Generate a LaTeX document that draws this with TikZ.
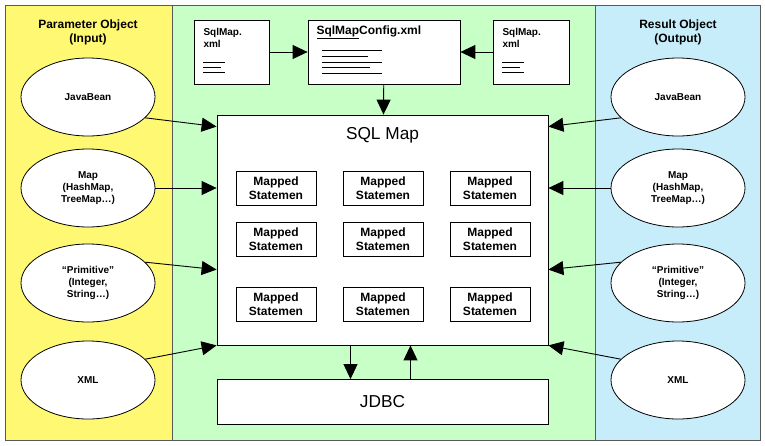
\documentclass[tikz,border=0pt]{standalone}
\usepackage{fontspec}
\setmainfont{Liberation Sans}
\usetikzlibrary{arrows.meta,shapes.geometric}
\tikzset{
  panel/.style={draw=gray!70!black, line width=1pt},
  obj/.style={draw, ellipse, fill=white, minimum width=134pt, minimum height=78pt, font=\bfseries, align=center, line width=0.8pt, inner sep=0pt},
  stmt/.style={draw, fill=white, minimum width=80pt, minimum height=34pt, font=\bfseries\large, align=center, line width=1pt, inner sep=1pt},
  file/.style={draw, fill=white, line width=0.8pt},
  arr/.style={-{Triangle[length=15pt,width=14pt]}, line width=0.9pt},
}
\begin{document}
\begin{tikzpicture}[x=1pt,y=-1pt]
\useasboundingbox (0,0) rectangle (765,445);
% panels
\fill[yellow!55] (5,5) rectangle (172,440);
\fill[green!22] (172,5) rectangle (595,440);
\fill[cyan!22] (595,5) rectangle (760,440);
\draw[panel] (5,5) rectangle (760,440);
\draw[panel] (172,5) -- (172,440);
\draw[panel] (595,5) -- (595,440);
\node[font=\bfseries\large, align=center] (intitle) at (88,32) {Parameter Object\\(Input)};
\node[font=\bfseries\large, align=center] (outtitle) at (678,32) {Result Object\\(Output)};
% files
\node[file, minimum width=75pt, minimum height=64pt] (fileL) at (232,52) {};
\node[file, minimum width=152pt, minimum height=64pt] (config) at (384,52) {};
\node[file, minimum width=76pt, minimum height=64pt] (fileR) at (531,52) {};
\node[font=\bfseries, align=left, anchor=north west] at (200,25) {SqlMap.\\xml};
\node[font=\bfseries, align=left, anchor=north west] at (499,25) {SqlMap.\\xml};
\node[font=\bfseries\large, anchor=north west] at (313,22) {\underline{SqlMap}Config.xml};
\foreach \y/\w in {62/22,67/18,72/22} \draw (203,\y) -- ++(\w,0) (502,\y) -- ++(\w,0);
\foreach \y/\w in {50/60,56/46,62/60,67/48,73/60} \draw (322,\y) -- ++(\w,0);
% sql map
\node[draw, fill=white, minimum width=331pt, minimum height=230pt, line width=0.8pt] (sqlmap) at (382.5,230) {};
\node[font=\LARGE] (sqltitle) at (382.5,135) {SQL Map};
\foreach \r/\y in {1/188,2/239,3/304}
  \foreach \c/\x in {1/276,2/383,3/490}
    \node[stmt] (s\r\c) at (\x,\y) {Mapped\\Statemen};
\node[draw, fill=white, minimum width=331pt, minimum height=45pt, font=\LARGE, line width=0.8pt] (jdbc) at (382.5,402) {JDBC};
% objects
\foreach \side/\x in {L/88,R/678} {
  \node[obj] (bean\side) at (\x,97) {JavaBean};
  \node[obj] (map\side) at (\x,188) {Map\\(HashMap,\\TreeMap\dots)};
  \node[obj] (prim\side) at (\x,283) {``Primitive''\\(Integer,\\String\dots)};
  \node[obj] (xml\side) at (\x,380) {XML};
}
% arrows
\draw[arr] (fileL) -- (config);
\draw[arr] (fileR) -- (config);
\draw[arr] (config) -- (sqlmap);
\draw[arr] ([xshift=-32pt]sqlmap.south) -- ([xshift=-32pt]jdbc.north);
\draw[arr] ([xshift=28pt]jdbc.north) -- ([xshift=28pt]sqlmap.south);
\draw[arr] (beanL.-20) -- ([yshift=-12pt]sqlmap.north west);
\draw[arr] (mapL.east) -- (sqlmap.west |- mapL.east);
\draw[arr] (primL.20) -- ([yshift=-155pt]sqlmap.north west);
\draw[arr] (xmlL.20) -- (sqlmap.south west);
\draw[arr] (beanR.200) -- ([yshift=-12pt]sqlmap.north east);
\draw[arr] (mapR.west) -- (sqlmap.east |- mapR.west);
\draw[arr] (primR.160) -- ([yshift=-155pt]sqlmap.north east);
\draw[arr] (xmlR.160) -- (sqlmap.south east);
\end{tikzpicture}
\end{document}
